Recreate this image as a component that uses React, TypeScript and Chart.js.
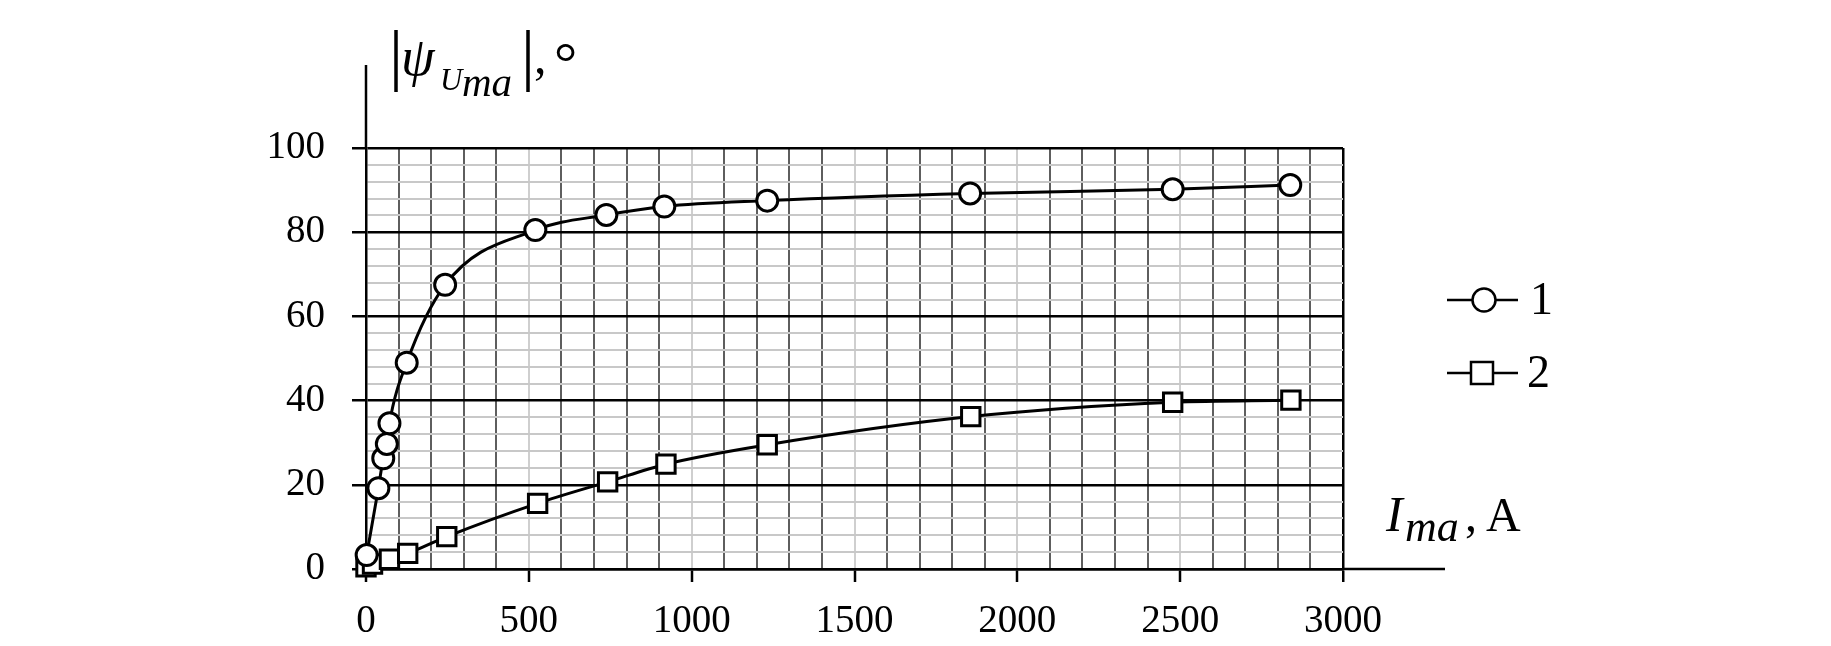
import React, { useEffect, useRef } from "react";
import { Chart, registerables } from "chart.js";

Chart.register(...registerables);

// Series 1 (circles)
const current1 = [2, 38, 53, 64, 72, 125, 243, 520, 738, 916, 1232, 1855, 2477, 2838];
const psi1 = [3.3, 19.2, 26.3, 29.7, 34.6, 49, 67.5, 80.5, 84.1, 86.1, 87.5, 89.2, 90.2, 91.2];

// Series 2 (squares)
const current2 = [0, 20, 72, 128, 248, 527, 742, 921, 1232, 1857, 2477, 2840];
const psi2 = [0.5, 1.2, 2.3, 3.7, 7.7, 15.6, 20.7, 24.9, 29.5, 36.2, 39.6, 40.1];

const xTickLabels = [0, 500, 1000, 1500, 2000, 2500, 3000];
const yTickLabels = [0, 20, 40, 60, 80, 100];
const legendLabels = ["1", "2"];

const SERIF = '"Liberation Serif", "Times New Roman", serif';

const overlay = {
  id: "overlay",
  afterDraw(chart: any) {
    const ctx = chart.ctx as CanvasRenderingContext2D;
    const { left, right, top, bottom } = chart.chartArea;
    ctx.save();
    ctx.strokeStyle = "#000";
    ctx.fillStyle = "#000";
    ctx.lineWidth = 2.5;
    // axis extensions
    ctx.beginPath();
    ctx.moveTo(left, top);
    ctx.lineTo(left, 65);
    ctx.stroke();
    ctx.beginPath();
    ctx.moveTo(right, bottom);
    ctx.lineTo(1445, bottom);
    ctx.stroke();

    // Y title |ψ_{U_ma}|, °
    ctx.lineWidth = 3.5;
    ctx.beginPath();
    ctx.moveTo(396, 30);
    ctx.lineTo(396, 92);
    ctx.stroke();
    ctx.beginPath();
    ctx.moveTo(528, 30);
    ctx.lineTo(528, 92);
    ctx.stroke();
    ctx.textBaseline = "alphabetic";
    ctx.textAlign = "left";
    ctx.font = `italic 54px ${SERIF}`;
    ctx.fillText("ψ", 401, 75);
    ctx.font = `italic 31px ${SERIF}`;
    ctx.fillText("U", 440, 90);
    ctx.font = `italic 41px ${SERIF}`;
    ctx.fillText("ma", 462, 96);
    ctx.font = `50px ${SERIF}`;
    ctx.fillText(",", 534, 73);
    ctx.font = `58px ${SERIF}`;
    ctx.fillText("°", 554, 82);

    // X title I_ma, A
    ctx.font = `italic 50px ${SERIF}`;
    ctx.fillText("I", 1386, 531);
    ctx.font = `italic 44px ${SERIF}`;
    ctx.fillText("ma", 1405, 541);
    ctx.font = `48px ${SERIF}`;
    ctx.fillText(",", 1465, 531);
    ctx.fillText("A", 1486, 531);

    // Legend
    const rows = [300, 373];
    ctx.lineWidth = 2.5;
    rows.forEach((y, i) => {
      ctx.beginPath();
      ctx.moveTo(1447, y);
      ctx.lineTo(1518, y);
      ctx.stroke();
      ctx.fillStyle = "#fff";
      ctx.beginPath();
      if (i === 0) {
        ctx.arc(1484, y, 11.5, 0, Math.PI * 2);
      } else {
        ctx.rect(1471, y - 11, 22, 22);
      }
      ctx.fill();
      ctx.stroke();
      ctx.fillStyle = "#000";
      ctx.font = `46px ${SERIF}`;
      ctx.textBaseline = "middle";
      ctx.fillText(legendLabels[i], i === 0 ? 1530 : 1527, y + 2);
    });
    ctx.restore();
  },
};

export default function App() {
  const ref = useRef<HTMLCanvasElement>(null);
  useEffect(() => {
    if (!ref.current) return;
    const chart = new Chart(ref.current, {
      type: "line",
      data: {
        datasets: [
          {
            label: legendLabels[0],
            data: current1.map((x, i) => ({ x, y: psi1[i] })),
            borderColor: "#000",
            borderWidth: 3,
            pointStyle: "circle",
            pointRadius: 10.5,
            pointBorderWidth: 3,
            pointBackgroundColor: "#fff",
            pointBorderColor: "#000",
            cubicInterpolationMode: "monotone",
            clip: false,
          },
          {
            label: legendLabels[1],
            data: current2.map((x, i) => ({ x, y: psi2[i] })),
            borderColor: "#000",
            borderWidth: 3,
            pointStyle: "rect",
            pointRadius: 13,
            pointBorderWidth: 3,
            pointBackgroundColor: "#fff",
            pointBorderColor: "#000",
            cubicInterpolationMode: "monotone",
            clip: false,
          },
        ],
      },
      options: {
        animation: false,
        responsive: false,
        layout: { padding: { left: 0, right: 488, top: 148, bottom: 0 } },
        plugins: { legend: { display: false }, tooltip: { enabled: false } },
        scales: {
          x: {
            type: "linear",
            min: 0,
            max: 3000,
            afterFit: (s: any) => {
              s.height = 77;
            },
            ticks: {
              stepSize: 100,
              autoSkip: false,
              maxRotation: 0,
              padding: 16,
              color: "#000",
              font: { family: SERIF, size: 39 },
              callback: (v: any) => (xTickLabels.includes(Number(v)) ? String(v) : ""),
            },
            grid: {
              color: (c: any) => {
                const v = c.tick?.value ?? 0;
                if (v === 0 || v === 3000) return "#000";
                return v % 500 === 0 ? "#cfcfcf" : "#5e5e5e";
              },
              lineWidth: (c: any) => {
                const v = c.tick?.value ?? 0;
                return v === 3000 ? 2.5 : 2;
              },
              tickColor: (c: any) => (xTickLabels.includes(c.tick?.value) ? "#000" : "rgba(0,0,0,0)"),
              tickLength: 13,
              tickWidth: 2.5,
            },
            border: { display: true, color: "#000", width: 2.5 },
          },
          y: {
            type: "linear",
            min: 0,
            max: 100,
            afterFit: (s: any) => {
              s.width = 366;
            },
            ticks: {
              stepSize: 4,
              autoSkip: false,
              padding: 27,
              color: "#000",
              font: { family: SERIF, size: 39 },
              callback: (v: any) => (yTickLabels.includes(Number(v)) ? String(v) : ""),
            },
            grid: {
              color: (c: any) => {
                const v = c.tick?.value ?? 0;
                return v % 20 === 0 ? "#000" : "#c8c8c8";
              },
              lineWidth: (c: any) => {
                const v = c.tick?.value ?? 0;
                return v % 20 === 0 ? 2.5 : 2;
              },
              tickColor: (c: any) => (yTickLabels.includes(c.tick?.value) ? "#000" : "rgba(0,0,0,0)"),
              tickLength: 14,
              tickWidth: 2.5,
            },
            border: { display: true, color: "#000", width: 2.5 },
          },
        },
      },
      plugins: [overlay],
    });
    return () => chart.destroy();
  }, []);
  return (
    <div style={{ position: "absolute", left: 0, top: 0, width: 1831, height: 646, background: "#fff" }}>
      <canvas ref={ref} width={1831} height={646} style={{ display: "block" }} />
    </div>
  );
}
